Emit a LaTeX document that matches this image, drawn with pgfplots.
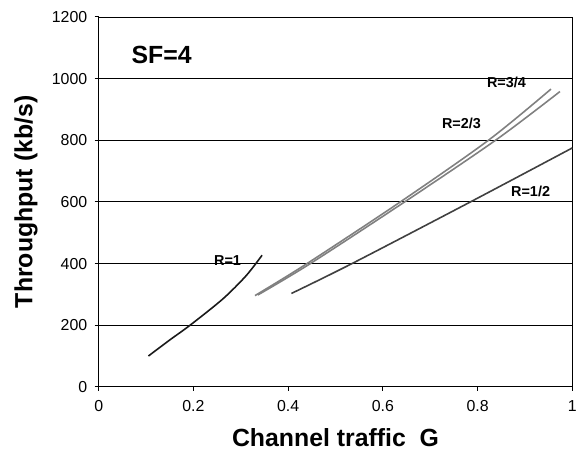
\documentclass[border=0pt]{standalone}
\usepackage{pgfplots}
\pgfplotsset{compat=1.18}
\usepackage{fontspec}
\setmainfont{Liberation Sans}
\newcommand\tickfont{\fontsize{16}{18}\selectfont}
\begin{document}
\begin{tikzpicture}
\begin{axis}[
  scale only axis,
  width=475bp, height=371bp,
  xmin=0, xmax=1, ymin=0, ymax=1200,
  xtick={0,0.2,0.4,0.6,0.8,1},
  ytick={0,200,400,600,800,1000,1200},
  xticklabels={\tickfont 0,\tickfont 0.2,\tickfont 0.4,\tickfont 0.6,\tickfont 0.8,\tickfont 1},
  yticklabels={\tickfont 0,\tickfont 200,\tickfont 400,\tickfont 600,\tickfont 800,\tickfont 1000,\tickfont 1200},
  yticklabel style={xshift=-4bp},
  xticklabel style={yshift=-6bp},
  axis x line*=bottom, axis y line*=left,
  tick align=outside,
  major tick length=4bp,
  ymajorgrids, grid style={black, line width=0.8pt},
  axis line style={black, line width=1pt},
  tick style={black, line width=0.9pt},
  xlabel={\bfseries Channel traffic\ \ G},
  ylabel={\bfseries Throughput (kb/s)},
  xlabel style={font=\fontsize{25}{26}\selectfont, at={(axis description cs:0.5,0)}, anchor=center, yshift=-51bp},
  ylabel style={font=\fontsize{25}{26}\selectfont, at={(axis description cs:0,0.5)}, anchor=center, yshift=73bp},
  clip=false,
]
\draw[black, line width=0.8pt] (axis cs:1,0) -- (axis cs:1,1200);
% R=1
\addplot[smooth, color=black!90, line width=1.6pt] coordinates {
 (0.105,100) (0.150,152) (0.193,200) (0.262,285) (0.311,360) (0.345,427)};
% R=3/4
\addplot[smooth, color=black!50, line width=1.6pt] coordinates {
 (0.330,296) (0.440,400) (0.637,600) (0.823,800) (0.955,966)};
% R=2/3
\addplot[smooth, color=black!50, line width=1.6pt] coordinates {
 (0.336,298) (0.447,400) (0.646,600) (0.838,800) (0.974,958)};
% R=1/2
\addplot[smooth, color=black!75, line width=1.6pt] coordinates {
 (0.407,303) (0.535,400) (0.785,600) (1.000,775)};
\node[font=\fontsize{25}{26}\selectfont\bfseries] at (axis cs:0.133,1077) {SF=4};
\node[font=\fontsize{14.5}{15}\selectfont\bfseries] at (axis cs:0.272,411) {R=1};
\node[font=\fontsize{14.5}{15}\selectfont\bfseries] at (axis cs:0.861,987) {R=3/4};
\node[font=\fontsize{14.5}{15}\selectfont\bfseries] at (axis cs:0.766,854) {R=2/3};
\node[font=\fontsize{14.5}{15}\selectfont\bfseries] at (axis cs:0.912,634) {R=1/2};
\end{axis}
\path (current axis.south west) ++(-99bp,-64bp);
\path (current axis.north east) ++(6bp,17bp);
\end{tikzpicture}
\end{document}
